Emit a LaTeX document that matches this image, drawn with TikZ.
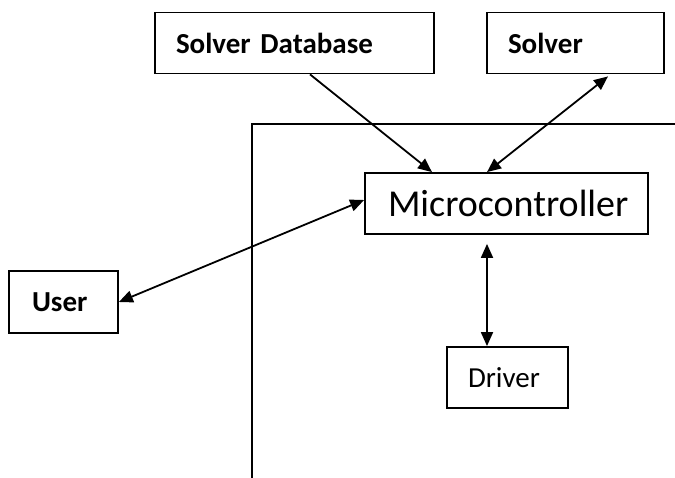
\documentclass[tikz,border=0pt]{standalone}
\usepackage{fontspec}
\setmainfont{Carlito}
\usetikzlibrary{arrows.meta,calc,positioning}
\tikzset{
  every picture/.style={line width=1.8pt, line join=miter,
    >={Triangle[length=14pt,width=12pt]}},
  % Blöcke: Breite und Höhe fest, Text links
  blk/.style={draw, rectangle, line width=1.8pt, align=left,
    inner xsep=21pt, inner ysep=0pt, minimum height=#1},
  blk/.default=61pt,
  fett/.style={font=\fontsize{29}{32}\selectfont\bfseries},
  norm/.style={font=\fontsize{29}{32}\selectfont},
  gross/.style={font=\fontsize{38}{42}\selectfont},
  % Verbindungen
  link/.style={<->, line width=1.8pt},
  dir/.style={->, line width=1.8pt},
}
\begin{document}
\begin{tikzpicture}[x=1pt, y=-1pt]
  \useasboundingbox (0,0) rectangle (675,478);
  % Rahmen (Gerätegrenze)
  \coordinate (ru) at (252,478);
  \coordinate (ro) at (252,124);
  \coordinate (rr) at (675,124);
  \draw (ru) -- (ro) -- (rr);
  % Blöcke
  \node[blk, fett, text width=237pt] (sdb) at (294.5,43) {Solver Database};
  \node[blk, fett, text width=135pt] (slv) at (575.5,43) {Solver};
  \node[blk, gross, inner xsep=23pt, text width=237pt] (mcu) at (506.5,203.5) {Microcontroller};
  \node[blk, fett, inner xsep=23pt, text width=63pt, minimum height=62pt] (usr) at (63.5,302) {User};
  \node[blk, norm, text width=79pt] (drv) at (507.5,377.5) {Driver};
  % Pfeile
  \draw[dir] ([xshift=15.5pt]sdb.south) -- ([xshift=-74.5pt]mcu.north);
  \draw[link] ([xshift=32.5pt,yshift=-2pt]slv.south) -- ([xshift=-19.5pt]mcu.north);
  \draw[link] (usr.east) -- ([yshift=3.5pt]mcu.west);
  \draw[link, shorten <=9pt] ([xshift=-19.5pt]mcu.south) -- ([xshift=-20.5pt]drv.north);
\end{tikzpicture}
\end{document}
